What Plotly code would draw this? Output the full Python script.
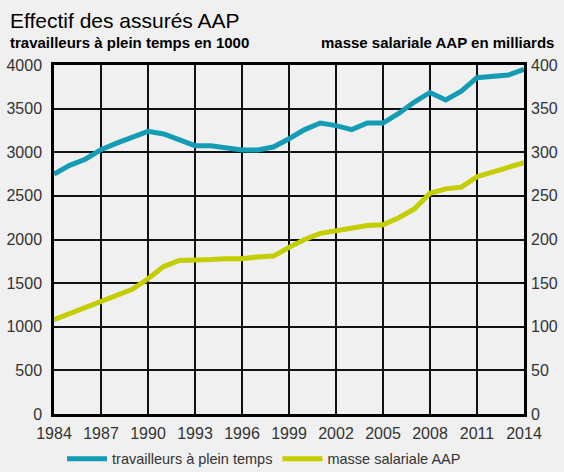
import plotly.graph_objects as go

# --- Données ---
annees = list(range(1984, 2015))
travailleurs = [2750, 2850, 2920, 3030, 3105, 3165, 3240, 3210, 3140, 3075,
                3075, 3055, 3025, 3025, 3060, 3155, 3260, 3335, 3305, 3260,
                3335, 3335, 3445, 3575, 3685, 3600, 3700, 3855, 3865, 3885, 3950]
masse_salariale = [108, 115, 123, 129, 136, 143, 155, 169, 176, 176,
                   177, 178, 178, 180, 181, 191, 200, 207, 210, 212,
                   216, 217, 225, 235, 253, 258, 260, 272, 277, 283, 288]
ticks_annees = list(range(1984, 2015, 3))

BLEU = "#139cb3"
VERT = "#c4cd00"
FOND = "#f0f0f0"
POLICE = "Liberation Sans, Arial, sans-serif"

fig = go.Figure()
fig.add_trace(go.Scatter(
    x=annees, y=travailleurs, mode="lines", name="travailleurs à plein temps",
    line=dict(color=BLEU, width=5), yaxis="y"
))
fig.add_trace(go.Scatter(
    x=annees, y=masse_salariale, mode="lines", name="masse salariale AAP",
    line=dict(color=VERT, width=5), yaxis="y2"
))

fig.update_layout(
    width=564, height=472,
    paper_bgcolor=FOND, plot_bgcolor=FOND,
    margin=dict(l=54, r=40, t=65, b=58, autoexpand=False),
    font=dict(family=POLICE, size=16, color="#333333"),
    showlegend=True,
    legend=dict(orientation="h", xref="container", yref="container",
                x=0.11, y=0.028, xanchor="left", yanchor="middle",
                bgcolor="rgba(0,0,0,0)", font=dict(size=14.5, color="#333333"),
                itemwidth=40, tracegroupgap=0),
    xaxis=dict(
        range=[1984, 2014], tickvals=ticks_annees,
        showgrid=True, gridcolor="#111111", gridwidth=1.5,
        showline=True, linecolor="#000000", linewidth=2.5, mirror=True,
        zeroline=False, ticks="", ticklabelstandoff=3,
    ),
    yaxis=dict(
        range=[0, 4000], dtick=500,
        showgrid=True, gridcolor="#111111", gridwidth=1.5,
        showline=True, linecolor="#000000", linewidth=2.5, mirror=True,
        zeroline=False, ticks="", ticklabelstandoff=6,
    ),
    yaxis2=dict(
        range=[0, 400], dtick=50, overlaying="y", side="right",
        showgrid=False, zeroline=False, showline=False, ticks="",
        ticklabelstandoff=6,
    ),
)

# --- Titres ---
fig.add_annotation(text="Effectif des assurés AAP", xref="paper", yref="paper",
                   x=-46 / 470, y=1 + 45 / 349, xanchor="left", yanchor="middle",
                   showarrow=False, font=dict(size=21, color="#000000"))
fig.add_annotation(text="<b>travailleurs à plein temps en 1000</b>", xref="paper", yref="paper",
                   x=-46 / 470, y=1 + 22 / 349, xanchor="left", yanchor="middle",
                   showarrow=False, font=dict(size=15, color="#000000"))
fig.add_annotation(text="<b>masse salariale AAP en milliards</b>", xref="paper", yref="paper",
                   x=1 + 32 / 470, y=1 + 22 / 349, xanchor="right", yanchor="middle",
                   showarrow=False, font=dict(size=15, color="#000000"))

# pas de marge de page autour du graphique, pas de barre d'outils
fig.write_html("out.html", config={"displayModeBar": False},
               post_script="document.body.style.margin = '0';")
